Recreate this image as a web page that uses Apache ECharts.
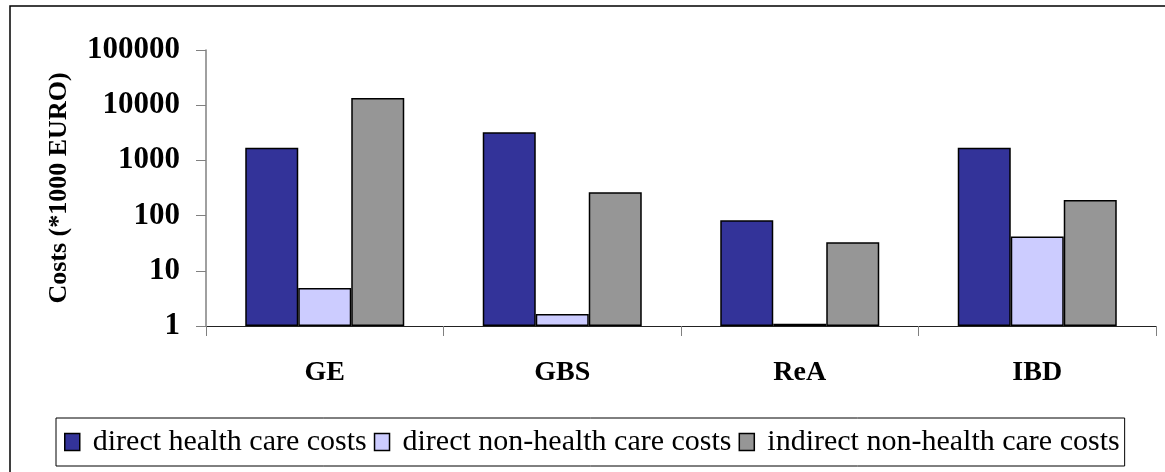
<!DOCTYPE html>
<html>
<head>
<meta charset="utf-8">
<script src="https://cdn.jsdelivr.net/npm/echarts@6/dist/echarts.min.js"></script>
<style>
  html, body { margin: 0; padding: 0; background: #fff; }
  #chart { width: 1165px; height: 472px; }
</style>
</head>
<body>
<div id="chart"></div>
<script>
// categories and values
var categories = ['GE', 'GBS', 'ReA', 'IBD'];
var directHealth = [1700, 3250, 82, 1700];
var directNonHealth = [4.9, 1.65, 1.1, 42];
var indirectNonHealth = [13500, 265, 33, 192];
var yTicks = [1, 10, 100, 1000, 10000, 100000];

var serif = '"Liberation Serif", "Times New Roman", serif';

var chart = echarts.init(document.getElementById('chart'));

function barSeries(name, data, color) {
  return {
    name: name,
    type: 'bar',
    data: data,
    barWidth: 53,
    barGap: '0%',
    itemStyle: { color: color, borderColor: '#000', borderWidth: 1.5 }
  };
}

chart.setOption({
  animation: false,
  textStyle: { fontFamily: serif },
  graphic: [{
    type: 'rect',
    shape: { x: 10, y: 6, width: 1300, height: 600 },
    style: { fill: 'none', stroke: '#000', lineWidth: 1.5 },
    silent: true
  }],
  grid: { left: 206, right: 9, top: 50, bottom: 146 },
  legend: {
    left: 56,
    top: 418,
    padding: [9, 5, 9, 8],
    itemGap: 7,
    itemWidth: 15,
    itemHeight: 17,
    icon: 'rect',
    borderColor: '#000',
    borderWidth: 1,
    borderRadius: 0,
    textStyle: { fontFamily: serif, fontSize: 30, color: '#000', padding: [0, 0, 0, 8] },
    itemStyle: { borderColor: '#000', borderWidth: 1.5 },
    data: ['direct health care costs', 'direct non-health care costs', 'indirect non-health care costs']
  },
  xAxis: {
    type: 'category',
    data: categories,
    axisLine: { lineStyle: { color: '#222', width: 1 } },
    axisTick: { show: true, length: 10, lineStyle: { color: '#808080' } },
    axisLabel: { margin: 33, fontFamily: serif, fontSize: 28, fontWeight: 'bold', color: '#000' }
  },
  yAxis: {
    type: 'log',
    logBase: 10,
    min: yTicks[0],
    max: yTicks[yTicks.length - 1],
    name: 'Costs (*1000 EURO)',
    nameLocation: 'middle',
    nameGap: 134,
    nameRotate: 90,
    nameTextStyle: { fontFamily: serif, fontSize: 26, fontWeight: 'bold', color: '#000' },
    axisLine: { show: true, lineStyle: { color: '#808080', width: 1.5 } },
    axisTick: { show: true, length: 10, lineStyle: { color: '#808080' } },
    splitLine: { show: false },
    axisLabel: {
      margin: 26,
      fontFamily: serif,
      fontSize: 31,
      fontWeight: 'bold',
      color: '#000',
      formatter: function (v) { return String(Math.round(v)); }
    }
  },
  series: [
    barSeries('direct health care costs', directHealth, '#333399'),
    barSeries('direct non-health care costs', directNonHealth, '#CCCCFF'),
    barSeries('indirect non-health care costs', indirectNonHealth, '#969696')
  ]
});
</script>
</body>
</html>
